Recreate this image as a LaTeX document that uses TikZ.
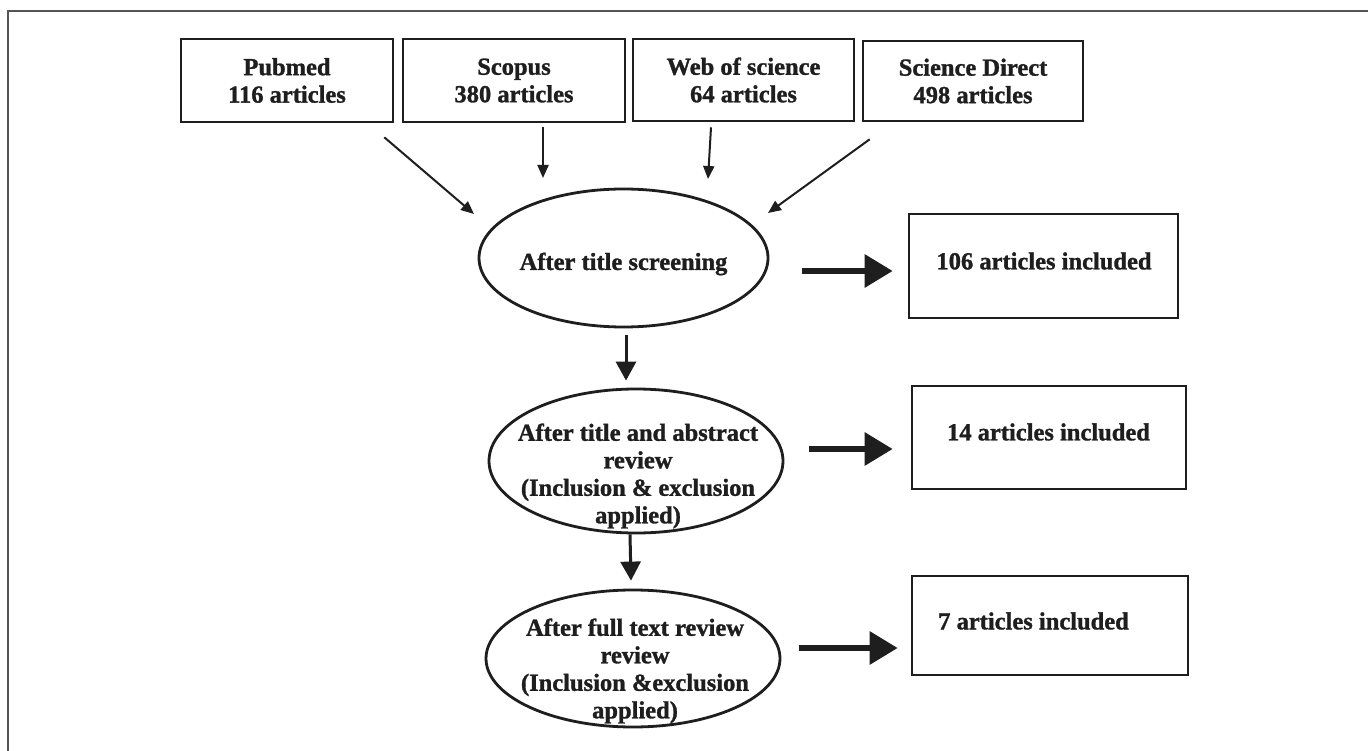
\documentclass[tikz,border=0pt]{standalone}
\usepackage{fontspec}
\setmainfont{Liberation Serif}[BoldFeatures={FakeBold=1.2}]
\usetikzlibrary{arrows.meta,shapes.geometric,calc}
\definecolor{ink}{HTML}{1E1E1E}
\definecolor{framegray}{HTML}{555555}
\begin{document}
\begin{tikzpicture}[x=1pt,y=-1pt,
  txt/.style={font=\bfseries\fontsize{24.5}{27.5}\selectfont, text=ink, align=center, inner sep=0pt},
  sbox/.style={draw=ink, line width=2.6pt, rectangle, inner sep=0pt, txt},
  ell/.style={draw=ink, line width=2.8pt, ellipse, inner sep=0pt},
  thinarr/.style={draw=ink, line width=2pt, -{Triangle[length=13pt,width=11pt]}},
  midarr/.style={draw=ink, line width=3pt, -{Triangle[length=19pt,width=20pt]}},
  thickarr/.style={draw=ink, line width=6pt, -{Triangle[length=28pt,width=32pt]}}
]
\useasboundingbox (0,0) rectangle (1368,751);
\fill[white] (0,0) rectangle (1368,751);
\draw[framegray, line width=2pt] (8,751) -- (8,11) -- (1368,11);

% source boxes
\node[sbox, minimum width=212pt, minimum height=83pt] (pub) at (287,80.5) {Pubmed\\116 articles};
\node[sbox, minimum width=222pt, minimum height=83pt] (sco) at (514,80.5) {Scopus\\380 articles};
\node[sbox, minimum width=221pt, minimum height=82pt] (wos) at (743.5,80) {Web of science\\64 articles};
\node[sbox, minimum width=220pt, minimum height=80pt] (sd) at (973,81) {Science Direct\\498 articles};

% ellipses
\node[ell, minimum width=289pt, minimum height=138pt] (e1) at (623.5,258) {};
\node[txt] (t1) at (623.5,264) {After title screening};
\node[ell, minimum width=294pt, minimum height=144pt] (e2) at (636,461) {};
\node[txt] (t2) at (638,476) {After title and abstract\\review\\(Inclusion \& exclusion\\applied)};
\node[ell, minimum width=294pt, minimum height=137pt] (e3) at (633,658.5) {};
\node[txt] (t3) at (635,671) {After full text review\\review\\(Inclusion \&exclusion\\applied)};

% result boxes
\node[sbox, minimum width=269pt, minimum height=104pt] (b1) at (1043.5,266) {};
\node[txt] (tb1) at (1044,261) {106 articles included};
\node[sbox, minimum width=274pt, minimum height=103pt] (b2) at (1049,437.5) {};
\node[txt] (tb2) at (1048.5,432) {14 articles included};
\node[sbox, minimum width=276pt, minimum height=99pt] (b3) at (1050,625.5) {};
\node[txt] (tb3) at (1033.5,621) {7 articles included};

% arrows from sources
\draw[thinarr] ($(pub.south east)+(-10,14)$) -- ($(e1.center)+(-149.5,-44)$);
\draw[thinarr] ($(sco.south)+(29,4)$) -- ($(e1.center)+(-80.5,-80)$);
\draw[thinarr] ($(wos.south)+(-32.5,5)$) -- ($(e1.center)+(84.5,-79)$);
\draw[thinarr] ($(sd.south west)+(8,17)$) -- ($(e1.center)+(144.5,-45)$);

% down arrows
\draw[midarr] ($(e1.south)+(2.5,7)$) -- ($(e2.north)+(-10,-7)$);
\draw[midarr] ($(e2.south)+(-6,0)$) -- ($(e3.north)+(-2,-8)$);

% right arrows
\draw[thickarr] ($(e1.east)+(33,13)$) -- ($(b1.west)+(-15,5)$);
\draw[thickarr] ($(e2.east)+(25,-12)$) -- ($(b2.west)+(-18,11.5)$);
\draw[thickarr] ($(e3.east)+(18,-10.5)$) -- ($(b3.west)+(-13,22.5)$);
\end{tikzpicture}
\end{document}
